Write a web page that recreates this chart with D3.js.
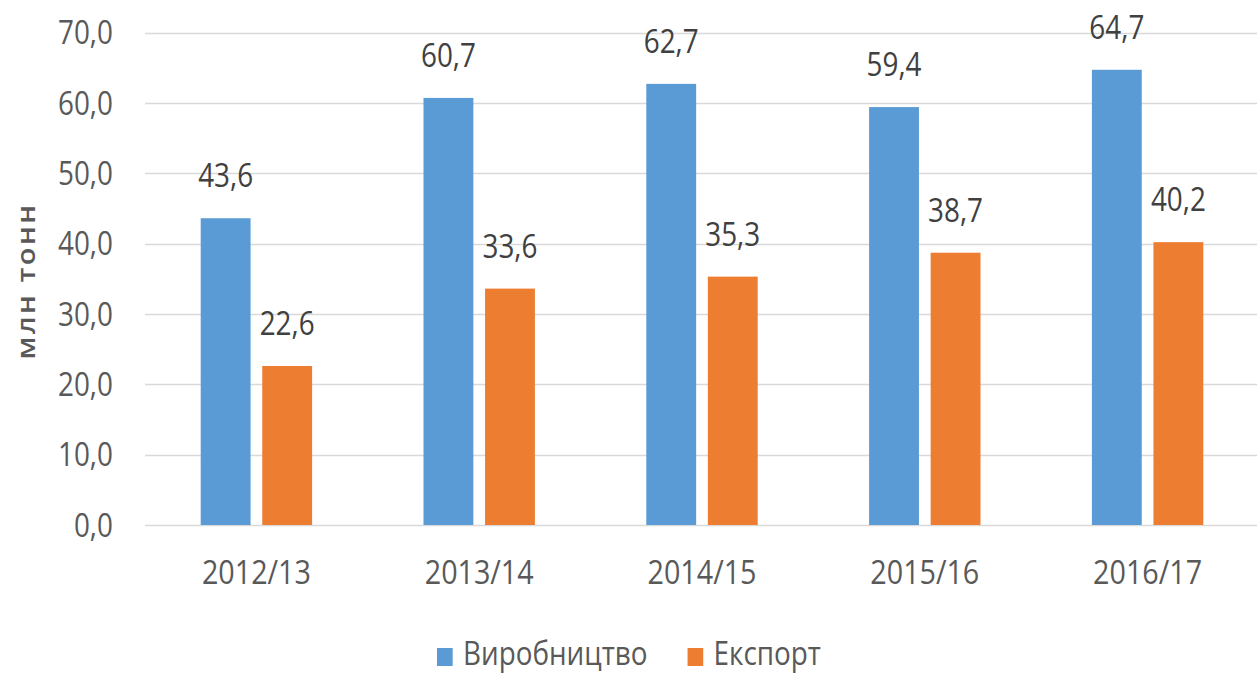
<!DOCTYPE html>
<html>
<head>
<meta charset="utf-8">
<script src="https://cdn.jsdelivr.net/npm/d3@7"></script>
<style>
  body { margin: 0; background: #fff; }
  svg text { font-family: "Open Sans", sans-serif; }
</style>
</head>
<body>
<div class="chart"></div>
<script>
// data
const years = ['2012/13', '2013/14', '2014/15', '2015/16', '2016/17'];
const production = [43.6, 60.7, 62.7, 59.4, 64.7];
const exports = [22.6, 33.6, 35.3, 38.7, 40.2];
const seriesNames = ['Виробництво', 'Експорт'];
const yTicks = [0, 10, 20, 30, 40, 50, 60, 70];

const colors = ['#5B9BD5', '#ED7D31'];
const fmt = d => d.toFixed(1).replace('.', ',');

// the picture is horizontally squeezed, so draw wider and squeeze with viewBox
const sx = 0.87;
const width = 1257, height = 675;
const W = width / sx;
const px = v => v / sx; // screen px -> inner units

const rows = years.map((y, i) => ({ year: y, values: [production[i], exports[i]] }));

const svg = d3.select('.chart')
  .append('svg')
  .attr('width', width)
  .attr('height', height)
  .attr('viewBox', `0 0 ${W} ${height}`)
  .attr('preserveAspectRatio', 'none');

// scales
const x0 = d3.scaleBand()
  .domain(years)
  .range([px(145), px(1259)])
  .paddingInner(0.5)
  .paddingOuter(0.25);
const x1 = d3.scaleBand()
  .domain([0, 1])
  .range([0, x0.bandwidth()])
  .paddingInner(0.19);
const y = d3.scaleLinear()
  .domain([0, 70])
  .range([525, 32.5]);

// grid
svg.append('g')
  .selectAll('line')
  .data(yTicks)
  .enter()
  .append('line')
  .attr('x1', px(145))
  .attr('x2', W)
  .attr('y1', d => Math.round(y(d)) + 0.5)
  .attr('y2', d => Math.round(y(d)) + 0.5)
  .style('stroke', '#d9d9d9')
  .style('stroke-width', 1.5)
  .attr('vector-effect', 'non-scaling-stroke');

// y axis labels
const yAxis = d3.axisLeft(y)
  .tickValues(yTicks)
  .tickFormat(fmt)
  .tickSize(0)
  .tickPadding(0);
const yAxisDraw = svg.append('g')
  .attr('transform', `translate(${px(113)},0)`)
  .call(yAxis);
yAxisDraw.select('.domain').remove();
yAxisDraw.selectAll('text')
  .style('font-size', '32px')
  .style('fill', '#595959')
  .attr('dy', '0.35em');

// x axis labels
const xAxis = d3.axisBottom(x0).tickSize(0).tickPadding(0);
const xAxisDraw = svg.append('g')
  .attr('transform', 'translate(0,525)')
  .call(xAxis);
xAxisDraw.select('.domain').remove();
xAxisDraw.selectAll('text')
  .style('font-size', '33px')
  .style('fill', '#595959')
  .attr('dy', null)
  .attr('y', 59);

// bars
const groups = svg.append('g')
  .selectAll('g')
  .data(rows)
  .enter()
  .append('g')
  .attr('transform', d => `translate(${x0(d.year)},0)`);

groups.selectAll('rect')
  .data(d => d.values)
  .enter()
  .append('rect')
  .attr('x', (d, i) => x1(i))
  .attr('width', x1.bandwidth())
  .attr('y', d => y(d))
  .attr('height', d => y(0) - y(d))
  .style('fill', (d, i) => colors[i]);

groups.selectAll('text')
  .data(d => d.values)
  .enter()
  .append('text')
  .attr('x', (d, i) => x1(i) + x1.bandwidth() / 2)
  .attr('y', d => y(d) - 31)
  .attr('text-anchor', 'middle')
  .style('font-size', '32px')
  .style('fill', '#404040')
  .text(fmt);

// y title
svg.append('text')
  .attr('transform', `translate(${px(35)},281) rotate(-90)`)
  .attr('text-anchor', 'middle')
  .style('font-size', '29px')
  .style('font-weight', 600)
  .style('letter-spacing', '2.5px')
  .style('fill', '#595959')
  .text('млн тонн');

// legend
const legend = svg.append('g').attr('transform', 'translate(0,665)');
let lx = px(437);
seriesNames.forEach((name, i) => {
  legend.append('rect')
    .attr('x', lx)
    .attr('y', -17)
    .attr('width', 18)
    .attr('height', 18)
    .style('fill', colors[i]);
  const t = legend.append('text')
    .attr('x', lx + px(26))
    .attr('y', 0)
    .style('font-size', '32px')
    .style('fill', '#595959')
    .text(name);
  lx += px(26) + t.node().getComputedTextLength() + px(40);
});
</script>
</body>
</html>
